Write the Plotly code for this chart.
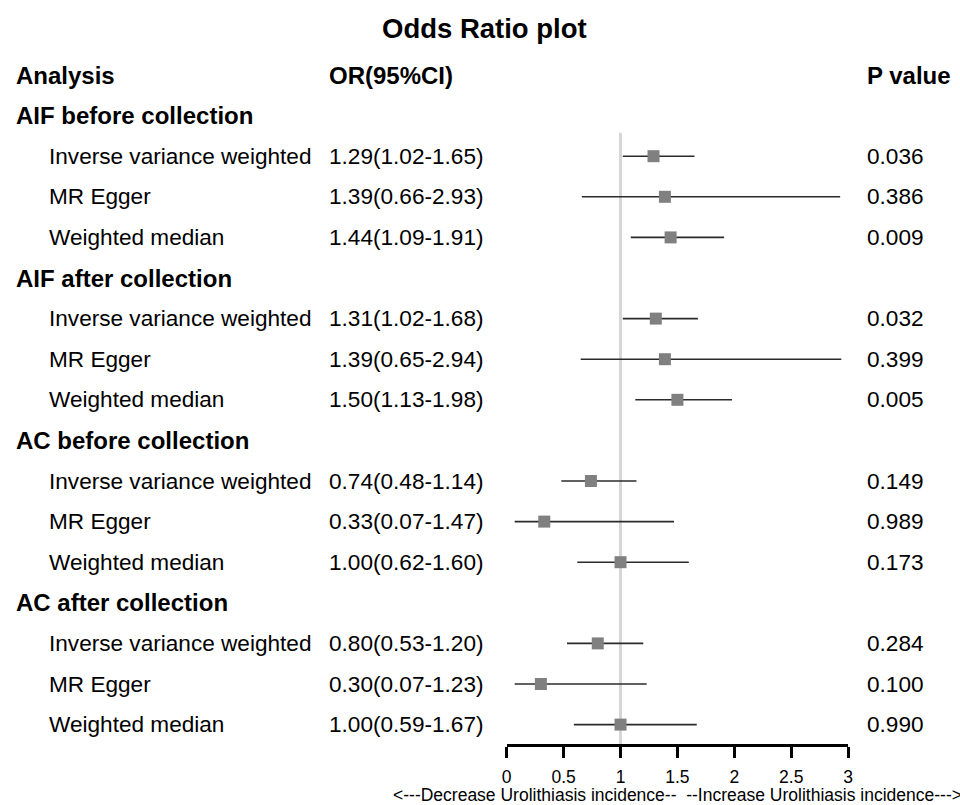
import plotly.graph_objects as go

groups = ["AIF before collection", "AIF after collection", "AC before collection", "AC after collection"]
methods = ["Inverse variance weighted", "MR Egger", "Weighted median"]
or_vals = [1.29, 1.39, 1.44, 1.31, 1.39, 1.50, 0.74, 0.33, 1.00, 0.80, 0.30, 1.00]
lower = [1.02, 0.66, 1.09, 1.02, 0.65, 1.13, 0.48, 0.07, 0.62, 0.53, 0.07, 0.59]
upper = [1.65, 2.93, 1.91, 1.68, 2.94, 1.98, 1.14, 1.47, 1.60, 1.20, 1.23, 1.67]
pvals = ["0.036", "0.386", "0.009", "0.032", "0.399", "0.005",
         "0.149", "0.989", "0.173", "0.284", "0.100", "0.990"]
tick_vals = [0, 0.5, 1, 1.5, 2, 2.5, 3]
tick_text = ["0", "0.5", "1", "1.5", "2", "2.5", "3"]

W, H = 960, 805
FONT = "Liberation Sans, Arial, sans-serif"
REG = 22.6
BOLD = 24

rows = []
group_rows = []
r = 1
for g in groups:
    group_rows.append(r)
    r += 1
    for m in methods:
        rows.append(r)
        r += 1

row0_px, row_step = 75, 40.6
axis_px = 744
top_val = (0 - row0_px) / row_step
bot_val = (axis_px - row0_px) / row_step

fig = go.Figure()

fig.add_trace(go.Scatter(
    x=or_vals, y=rows, mode="markers",
    marker=dict(symbol="square", size=12, color="#808080", line=dict(width=0)),
    error_x=dict(type="data", symmetric=False,
                 array=[u - o for u, o in zip(upper, or_vals)],
                 arrayminus=[o - l for o, l in zip(or_vals, lower)],
                 color="#2b2b2b", thickness=1.6, width=0),
    showlegend=False, hoverinfo="skip", cliponaxis=False,
))

fig.add_shape(type="line", xref="x", yref="y", x0=1, x1=1, y0=1.42, y1=bot_val,
              line=dict(color="#d6d6d6", width=3), layer="below")

ann = []
def px_x(p):
    return p / W

def txt(text, xpx, row, size=REG, bold=False):
    ann.append(dict(text=("<b>%s</b>" % text) if bold else text, x=px_x(xpx), xref="paper",
                    y=row, yref="y", xanchor="left", yanchor="middle", align="left",
                    showarrow=False, borderpad=0,
                    font=dict(family=FONT, size=size, color="black")))

txt("Analysis", 10, 0, BOLD, True)
txt("OR(95%CI)", 326, 0, BOLD, True)
txt("P value", 870, 0, BOLD, True)
for g, gr in zip(groups, group_rows):
    txt(g, 10, gr, BOLD, True)
i = 0
for gi in range(len(groups)):
    for m in methods:
        rr = rows[i]
        txt(m, 43, rr)
        txt("%.2f(%.2f-%.2f)" % (or_vals[i], lower[i], upper[i]), 326, rr)
        txt(pvals[i], 870, rr)
        i += 1

ann.append(dict(text="<b>Odds Ratio plot</b>", x=px_x(485), xref="paper", y=1 - 28 / H, yref="paper",
                xanchor="center", yanchor="middle", showarrow=False,
                font=dict(family=FONT, size=27.5, color="black")))
ann.append(dict(text="<---Decrease Urolithiasis incidence--  --Increase Urolithiasis incidence--->",
                x=1.5, xref="x", y=1 - 795 / H, yref="paper", xanchor="center", yanchor="middle",
                showarrow=False, borderpad=0, font=dict(family=FONT, size=17.5, color="black")))

fig.update_layout(
    width=W, height=H, margin=dict(l=0, r=0, t=0, b=0), autosize=False,
    paper_bgcolor="white", plot_bgcolor="white",
    annotations=ann,
    xaxis=dict(domain=[507 / W, 852 / W], range=[0, 3], showgrid=False, zeroline=False,
               showline=True, linecolor="black", linewidth=3,
               ticks="outside", ticklen=11, tickwidth=3, tickcolor="black",
               tickvals=tick_vals, ticktext=tick_text, ticklabelstandoff=4,
               tickfont=dict(family=FONT, size=17.5, color="black")),
    yaxis=dict(domain=[(H - axis_px) / H, 1], range=[bot_val, top_val], visible=False,
               showgrid=False, zeroline=False),
)

fig.write_html("out.html", config={"responsive": False, "displayModeBar": False},
               post_script="document.body.style.margin='0';document.body.style.padding='0';"
                           "document.body.style.overflow='hidden';")
